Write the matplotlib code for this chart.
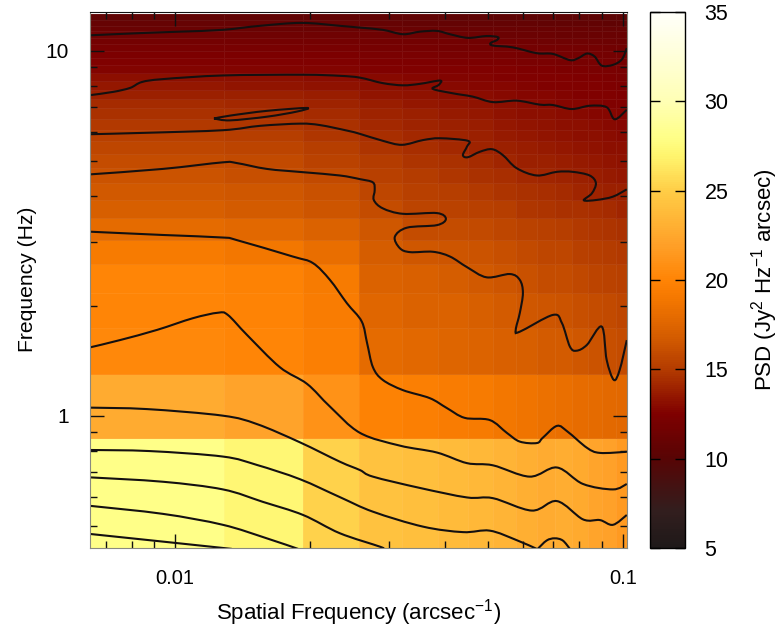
#!/usr/bin/env python

import numpy as np
import matplotlib
matplotlib.use('Agg')
import matplotlib.pyplot as plt
from matplotlib.colors import LinearSegmentedColormap
from matplotlib.patches import PathPatch
from matplotlib.path import Path
from matplotlib.ticker import FixedLocator, NullFormatter

plt.rcParams['font.family'] = ['Liberation Sans', 'DejaVu Sans']
plt.rcParams['mathtext.fontset'] = 'custom'
plt.rcParams['mathtext.rm'] = 'Liberation Sans'
plt.rcParams['mathtext.default'] = 'regular'

# bin widths of the two frequency axes
spatial_step = 0.00643
temporal_step = 0.434

spatial_bins = np.arange(1, 17)
temporal_bins = np.arange(1, 30)

# PSD, rows go from low to high frequency
psd_rows = [
    [28.0, 27.2, 25.2, 24.3, 24.0, 23.8, 23.6, 23.3, 23.0, 22.8, 22.9, 22.6, 22.3, 22.0, 21.6],
    [22.8, 22.2, 21.0, 19.8, 19.6, 19.4, 19.2, 18.9, 18.6, 18.4, 18.3, 18.1, 18.0, 17.8, 17.7],
    [20.3, 20.1, 19.6, 17.9, 17.7, 17.5, 17.4, 17.1, 17.0, 16.8, 16.8, 16.5, 16.3, 16.1, 16.0],
    [20.0, 19.9, 19.4, 17.6, 17.3, 17.2, 17.0, 16.8, 16.5, 16.4, 16.3, 16.1, 15.9, 15.8, 15.6],
    [20.0, 19.8, 19.2, 17.3, 17.1, 16.9, 16.7, 16.4, 16.2, 16.0, 15.9, 15.7, 15.5, 15.4, 15.2],
    [19.2, 18.9, 18.2, 16.9, 16.6, 16.4, 16.3, 16.1, 15.8, 15.6, 15.6, 15.3, 15.1, 15.0, 14.9],
    [18.0, 17.7, 17.2, 16.5, 16.0, 15.9, 15.8, 15.6, 15.4, 15.2, 15.1, 14.9, 14.8, 14.7, 14.5],
    [17.0, 16.8, 16.4, 15.9, 15.5, 15.4, 15.3, 15.1, 14.8, 14.7, 14.6, 14.5, 14.4, 14.3, 14.1],
    [16.7, 16.5, 16.2, 15.6, 15.2, 15.1, 14.9, 14.7, 14.5, 14.4, 14.3, 14.1, 14.0, 13.9, 13.8],
    [16.3, 16.1, 15.8, 15.3, 15.0, 14.8, 14.6, 14.4, 14.2, 14.1, 14.0, 13.8, 13.7, 13.6, 13.5],
    [15.9, 15.8, 15.4, 15.0, 14.7, 14.5, 14.3, 14.1, 13.9, 13.8, 13.7, 13.6, 13.5, 13.4, 13.3],
    [15.6, 15.5, 15.1, 14.7, 14.4, 14.2, 14.0, 13.8, 13.7, 13.6, 13.5, 13.4, 13.3, 13.2, 13.1],
    [15.2, 15.1, 14.8, 14.4, 14.2, 14.0, 13.8, 13.6, 13.5, 13.4, 13.3, 13.2, 13.1, 13.0, 12.9],
    [14.9, 14.8, 14.6, 14.2, 14.0, 13.8, 13.7, 13.5, 13.4, 13.3, 13.2, 13.1, 13.0, 12.9, 12.8],
    [14.6, 14.5, 14.3, 14.0, 13.8, 13.6, 13.5, 13.3, 13.2, 13.1, 13.0, 12.9, 12.8, 12.8, 12.7],
    [14.3, 14.2, 14.0, 13.7, 13.5, 13.4, 13.3, 13.1, 13.0, 12.9, 12.8, 12.8, 12.7, 12.6, 12.5],
    [13.9, 13.8, 13.7, 13.4, 13.3, 13.1, 13.0, 12.9, 12.8, 12.8, 12.7, 12.6, 12.6, 12.5, 12.4],
    [13.5, 13.4, 13.3, 13.1, 13.0, 12.9, 12.8, 12.8, 12.7, 12.6, 12.6, 12.5, 12.5, 12.4, 12.3],
    [13.1, 13.1, 13.0, 12.9, 12.8, 12.7, 12.7, 12.6, 12.6, 12.5, 12.5, 12.4, 12.4, 12.3, 12.2],
    [12.7, 12.7, 12.7, 12.6, 12.6, 12.5, 12.5, 12.5, 12.4, 12.4, 12.3, 12.3, 12.2, 12.2, 12.1],
    [12.5, 12.5, 12.5, 12.4, 12.4, 12.3, 12.3, 12.3, 12.2, 12.2, 12.1, 12.1, 12.1, 12.0, 12.0],
    [12.3, 12.3, 12.3, 12.2, 12.2, 12.1, 12.1, 12.1, 12.0, 12.0, 12.0, 11.9, 11.9, 11.8, 11.8],
    [12.1, 12.1, 12.1, 12.0, 12.0, 11.9, 11.9, 11.9, 11.8, 11.8, 11.8, 11.7, 11.7, 11.6, 11.6],
    [11.8, 11.8, 11.8, 11.7, 11.7, 11.7, 11.6, 11.6, 11.6, 11.5, 11.5, 11.5, 11.4, 11.4, 11.3],
    [11.5, 11.5, 11.5, 11.5, 11.4, 11.4, 11.4, 11.3, 11.3, 11.3, 11.2, 11.2, 11.2, 11.1, 11.1],
    [11.2, 11.2, 11.2, 11.2, 11.1, 11.1, 11.1, 11.1, 11.0, 11.0, 11.0, 11.0, 10.9, 10.9, 10.9],
    [10.9, 10.9, 10.9, 10.9, 10.8, 10.8, 10.8, 10.8, 10.8, 10.7, 10.7, 10.7, 10.7, 10.6, 10.6],
    [10.6, 10.6, 10.6, 10.6, 10.6, 10.5, 10.5, 10.5, 10.5, 10.5, 10.4, 10.4, 10.4, 10.3, 10.3],
]

# contour lines, log10 of spatial and temporal frequency
line_a_x = [-2.190, -2.078, -1.989, -1.893, -1.810, -1.717, -1.632, -1.587, -1.536, -1.491, -1.453, -1.415, -1.386, -1.346, -1.304, -1.279, -1.281, -1.295, -1.290, -1.246, -1.192, -1.156, -1.118, -1.100, -1.080, -1.063, -1.047, -1.022, -1.002, -0.991]
line_a_y = [1.042, 1.048, 1.052, 1.057, 1.068, 1.076, 1.068, 1.063, 1.057, 1.045, 1.052, 1.054, 1.045, 1.035, 1.040, 1.037, 1.029, 1.021, 1.014, 1.009, 0.993, 0.991, 0.974, 0.979, 0.992, 0.984, 0.959, 0.961, 0.976, 1.007]
line_b_x = [-2.190, -2.138, -2.100, -2.074, -2.027, -1.893, -1.714, -1.632, -1.587, -1.536, -1.491, -1.453, -1.408, -1.411, -1.424, -1.379, -1.335, -1.290, -1.237, -1.185, -1.156, -1.114, -1.074, -1.036, -1.018, -0.991]
line_b_y = [0.878, 0.887, 0.898, 0.914, 0.922, 0.932, 0.934, 0.931, 0.926, 0.911, 0.905, 0.909, 0.918, 0.906, 0.895, 0.883, 0.874, 0.859, 0.863, 0.852, 0.851, 0.840, 0.849, 0.845, 0.812, 0.838]
loop_c_x = [-1.913, -1.877, -1.795, -1.705, -1.728, -1.795, -1.877, -1.913]
loop_c_y = [0.814, 0.822, 0.835, 0.843, 0.833, 0.819, 0.809, 0.814]
line_d_x = [-2.190, -2.062, -1.893, -1.810, -1.721, -1.676, -1.616, -1.587, -1.536, -1.493, -1.446, -1.408, -1.346, -1.348, -1.357, -1.346, -1.319, -1.292, -1.268, -1.237, -1.192, -1.147, -1.112, -1.074, -1.060, -1.069, -1.087, -1.058, -1.022, -0.991]
line_d_y = [0.771, 0.775, 0.782, 0.794, 0.800, 0.796, 0.781, 0.772, 0.753, 0.742, 0.755, 0.760, 0.753, 0.737, 0.714, 0.708, 0.723, 0.730, 0.714, 0.678, 0.658, 0.668, 0.668, 0.658, 0.637, 0.609, 0.590, 0.591, 0.600, 0.620]
line_e_x = [-2.190, -2.027, -1.893, -1.862, -1.795, -1.714, -1.632, -1.587, -1.558, -1.554, -1.556, -1.536, -1.491, -1.415, -1.395, -1.415, -1.482, -1.509, -1.498, -1.475, -1.424, -1.386, -1.348, -1.304, -1.252, -1.230, -1.223, -1.230, -1.239, -1.230, -1.156, -1.136, -1.118, -1.103, -1.080, -1.047, -1.036, -1.020, -1.007, -0.991]
line_e_y = [0.661, 0.676, 0.694, 0.692, 0.676, 0.667, 0.658, 0.648, 0.639, 0.618, 0.591, 0.568, 0.553, 0.555, 0.539, 0.522, 0.515, 0.490, 0.459, 0.448, 0.449, 0.436, 0.407, 0.379, 0.388, 0.372, 0.336, 0.281, 0.235, 0.230, 0.276, 0.254, 0.189, 0.178, 0.194, 0.244, 0.153, 0.098, 0.125, 0.207]
line_f_x = [-2.190, -2.027, -1.893, -1.862, -1.737, -1.692, -1.654, -1.616, -1.583, -1.571, -1.558, -1.536, -1.491, -1.431, -1.393, -1.353, -1.297, -1.259, -1.230, -1.192, -1.179, -1.147, -1.123, -1.080, -1.051, -0.991]
line_f_y = [0.504, 0.495, 0.488, 0.481, 0.436, 0.418, 0.372, 0.308, 0.258, 0.199, 0.133, 0.098, 0.070, 0.048, 0.021, -0.006, -0.012, -0.047, -0.071, -0.075, -0.061, -0.028, -0.044, -0.088, -0.102, -0.099]
line_g_x = [-2.190, -2.123, -2.040, -1.960, -1.904, -1.882, -1.839, -1.766, -1.705, -1.654, -1.587, -1.498, -1.415, -1.348, -1.290, -1.208, -1.147, -1.089, -1.022, -0.991]
line_g_y = [0.187, 0.207, 0.235, 0.267, 0.282, 0.276, 0.221, 0.133, 0.087, 0.025, -0.047, -0.082, -0.101, -0.130, -0.136, -0.167, -0.142, -0.187, -0.202, -0.187]
line_h_x = [-2.190, -2.062, -1.893, -1.817, -1.721, -1.632, -1.587, -1.558, -1.453, -1.348, -1.290, -1.203, -1.147, -1.089, -1.051, -1.022, -0.991]
line_h_y = [0.022, 0.018, 0.000, -0.023, -0.073, -0.126, -0.149, -0.167, -0.198, -0.224, -0.226, -0.260, -0.234, -0.284, -0.286, -0.299, -0.272]
line_i_x = [-2.190, -2.056, -1.893, -1.817, -1.721, -1.632, -1.558, -1.446, -1.357, -1.297, -1.237, -1.192]
line_i_y = [-0.094, -0.097, -0.112, -0.135, -0.174, -0.223, -0.263, -0.304, -0.319, -0.315, -0.341, -0.365]
line_j_x = [-2.190, -2.027, -1.893, -1.804, -1.714, -1.632, -1.542, -1.536]
line_j_y = [-0.169, -0.181, -0.202, -0.236, -0.272, -0.322, -0.359, -0.365]
line_k_x = [-2.190, -2.027, -1.893, -1.795, -1.725]
line_k_y = [-0.247, -0.269, -0.299, -0.336, -0.365]
line_l_x = [-2.190, -2.027, -1.873]
line_l_y = [-0.324, -0.345, -0.365]
arc_m_x = [-1.190, -1.170, -1.152, -1.134, -1.118]
arc_m_y = [-0.365, -0.342, -0.336, -0.342, -0.365]

contour_lines = [(line_a_x, line_a_y), (line_b_x, line_b_y), (loop_c_x, loop_c_y),
                 (line_d_x, line_d_y), (line_e_x, line_e_y), (line_f_x, line_f_y),
                 (line_g_x, line_g_y), (line_h_x, line_h_y), (line_i_x, line_i_y),
                 (line_j_x, line_j_y), (line_k_x, line_k_y), (line_l_x, line_l_y),
                 (arc_m_x, arc_m_y)]

# colour bar stops, PSD value and colour
stop_values = [5, 7, 10, 12.5, 15, 17, 19, 20, 22, 24, 25, 27, 28, 30, 35]
stop_colors = ['#1e1919', '#321e1e', '#580404', '#7f0000', '#b43c00', '#d75f00', '#f57800',
               '#ff8405', '#ffa028', '#ffbe3c', '#ffcd46', '#fff56e', '#ffff87', '#ffffb4', '#fffffa']


def curve_through(lx, ly):
    # bezier path through the read points, built in log space
    p = np.column_stack([lx, ly])
    prev = np.vstack([p[0], p[:-1]])
    after = np.vstack([p[1:], p[-1]])
    verts = [p[0]]
    codes = [Path.MOVETO]
    for i in range(len(p) - 1):
        verts.append(p[i] + (after[i] - prev[i]) / 6)
        verts.append(p[i + 1] - (after[i + 1] - prev[i + 1]) / 6)
        verts.append(p[i + 1])
        codes += [Path.CURVE4] * 3
    return Path(10.0 ** np.array(verts), codes)


def main():
    fig = plt.figure(figsize=(7.8, 6.3), dpi=100)
    ax = fig.add_axes([90 / 780, 82 / 630, 537 / 780, 536.5 / 630])
    cax = fig.add_axes([650 / 780, 82 / 630, 35 / 780, 536 / 630])

    limits = np.array(stop_values, dtype=float)
    nodes = (limits - limits[0]) / (limits[-1] - limits[0])
    cmap = LinearSegmentedColormap.from_list('psd', list(zip(nodes, stop_colors)), N=256)

    mesh = ax.pcolormesh(spatial_bins * spatial_step, temporal_bins * temporal_step,
                         np.array(psd_rows), cmap=cmap, vmin=5, vmax=35,
                         edgecolors=(1, 1, 1, 0.06), linewidth=0.5)

    for lx, ly in contour_lines:
        ax.add_patch(PathPatch(curve_through(lx, ly), fill=False, edgecolor='#141010', linewidth=1.5))

    ax.set_xscale('log')
    ax.set_yscale('log')
    ax.set_xlim(0.00646, 0.1022)
    ax.set_ylim(0.434, 12.8)

    ax.xaxis.set_major_locator(FixedLocator([0.01, 0.1]))
    ax.xaxis.set_major_formatter(plt.FixedFormatter(['0.01', '0.1']))
    ax.xaxis.set_minor_locator(FixedLocator([0.007, 0.008, 0.009, 0.02, 0.03, 0.04, 0.05, 0.06, 0.07, 0.08, 0.09]))
    ax.xaxis.set_minor_formatter(NullFormatter())
    ax.yaxis.set_major_locator(FixedLocator([1, 10]))
    ax.yaxis.set_major_formatter(plt.FixedFormatter(['1', '10']))
    ax.yaxis.set_minor_locator(FixedLocator([0.5, 0.6, 0.7, 0.8, 0.9, 2, 3, 4, 5, 6, 7, 8, 9]))
    ax.yaxis.set_minor_formatter(NullFormatter())

    ax.tick_params(which='both', direction='in', top=True, right=True, color='#111111', width=1.0)
    ax.tick_params(which='minor', length=5)
    ax.tick_params(axis='y', which='major', length=10, labelsize=15, pad=15)
    ax.tick_params(axis='x', which='major', length=10, labelsize=14.5, pad=15)

    for side in ['left', 'bottom', 'right']:
        ax.spines[side].set_color('#8a8a80')
    ax.spines['top'].set_color('#111111')

    ax.set_xlabel('Spatial Frequency (arcsec$^{-1}$)', fontsize=16, labelpad=7)
    ax.set_ylabel('Frequency (Hz)', fontsize=15.2, labelpad=6)

    cbar = fig.colorbar(mesh, cax=cax)
    cbar.set_ticks([5, 10, 15, 20, 25, 30, 35])
    cbar.outline.set_linewidth(1.0)
    cax.tick_params(direction='in', left=True, right=True, length=7, width=1.0, labelsize=15.5, pad=14)
    cbar.set_label('PSD (Jy$^2$ Hz$^{-1}$ arcsec)', fontsize=16, labelpad=15)

    fig.savefig('out.png', dpi=100)


if __name__ == "__main__":
    main()
